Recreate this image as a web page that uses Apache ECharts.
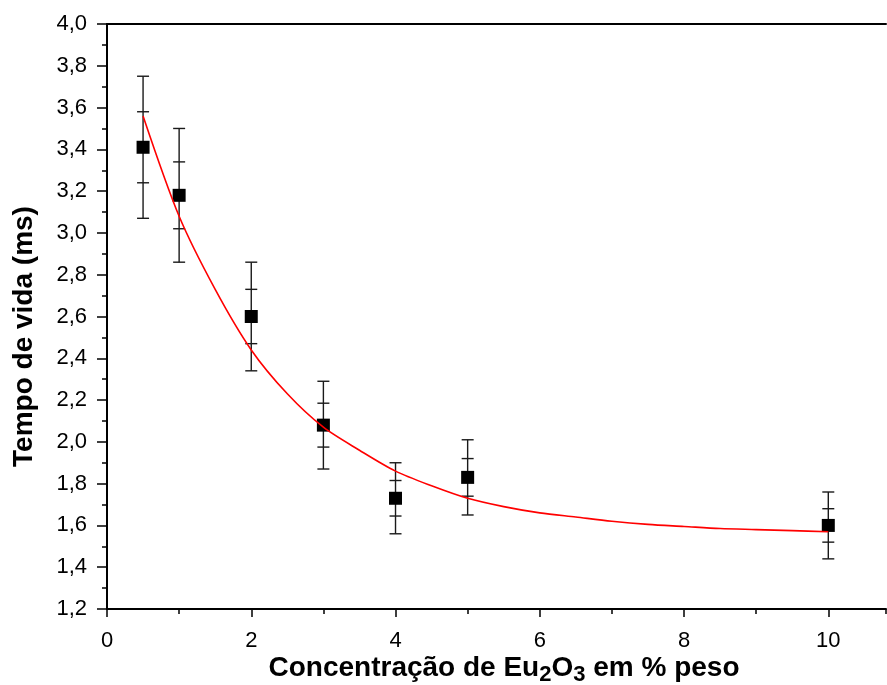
<!DOCTYPE html>
<html>
<head>
<meta charset="utf-8">
<script src="https://cdn.jsdelivr.net/npm/echarts@6/dist/echarts.min.js"></script>
<style>
  html, body { margin: 0; padding: 0; background: #fff; }
  #chart { width: 887px; height: 685px; }
</style>
</head>
<body>
<div id="chart"></div>
<script>
// Eu2O3 concentration (% by weight) and measured lifetime (ms)
const concentrations = [0.5, 1, 2, 3, 4, 5, 10];
const lifetimes = [3.41, 3.18, 2.60, 2.08, 1.73, 1.83, 1.60];
// outer (full) and inner (half) error-bar half-widths
const errOuter = [0.34, 0.32, 0.26, 0.21, 0.17, 0.18, 0.16];
const errInner = [0.17, 0.16, 0.13, 0.105, 0.085, 0.09, 0.08];

// exponential decay fit, sampled every 0.5 along the curve
const fitX = [0.5, 1, 1.5, 2, 2.5, 3, 3.5, 4, 4.5, 5, 5.5, 6, 6.5, 7, 7.5, 8, 8.5, 9, 9.5, 10];
const fitY = [3.56, 3.08, 2.73, 2.44, 2.23, 2.07, 1.96, 1.86, 1.79, 1.73, 1.69, 1.66, 1.64, 1.62, 1.605, 1.595, 1.585, 1.58, 1.575, 1.57];

const xTicks = [0, 2, 4, 6, 8, 10];
const yTicks = [1.2, 1.4, 1.6, 1.8, 2.0, 2.2, 2.4, 2.6, 2.8, 3.0, 3.2, 3.4, 3.6, 3.8, 4.0];
const X_MAX = 10.8;

const FONT = '"Liberation Sans", Arial, Helvetica, sans-serif';

const points = concentrations.map((x, i) => [x, lifetimes[i]]);
const errData = concentrations.map((x, i) => [x, lifetimes[i], errOuter[i], errInner[i]]);
const fitData = fitX.map((x, i) => [x, fitY[i]]);

function renderErrorBar(params, api) {
  const x = api.value(0), y = api.value(1), eo = api.value(2), ei = api.value(3);
  const top = api.coord([x, y + eo]);
  const bot = api.coord([x, y - eo]);
  const iTop = api.coord([x, y + ei]);
  const iBot = api.coord([x, y - ei]);
  const hw = 6;
  const style = { stroke: '#1a1a1a', lineWidth: 1.4 };
  const seg = (x1, y1, x2, y2) => ({ type: 'line', shape: { x1, y1, x2, y2 }, style });
  return {
    type: 'group',
    children: [
      seg(top[0], top[1], bot[0], bot[1]),
      seg(top[0] - hw, top[1], top[0] + hw, top[1]),
      seg(bot[0] - hw, bot[1], bot[0] + hw, bot[1]),
      seg(iTop[0] - hw, iTop[1], iTop[0] + hw, iTop[1]),
      seg(iBot[0] - hw, iBot[1], iBot[0] + hw, iBot[1])
    ]
  };
}

const chart = echarts.init(document.getElementById('chart'), null, { renderer: 'canvas' });

chart.setOption({
  animation: false,
  backgroundColor: '#ffffff',
  grid: { left: 107, right: 1, top: 24, bottom: 76, containLabel: false, outerBoundsMode: 'none' },
  xAxis: [
    {
      type: 'value',
      min: xTicks[0],
      max: X_MAX,
      interval: 2,
      position: 'bottom',
      axisLine: { show: true, lineStyle: { color: '#000', width: 2 } },
      axisTick: { show: true, inside: false, length: 8, lineStyle: { color: '#000', width: 1.5 } },
      splitLine: { show: false },
      axisLabel: {
        margin: 21,
        color: '#000',
        fontSize: 22,
        fontFamily: FONT,
        showMaxLabel: false,
        formatter: v => (xTicks.includes(v) ? String(v) : '')
      },
      name: 'Concentração de Eu{sub|2}O{sub|3} em % peso',
      nameLocation: 'middle',
      nameGap: 41,
      nameMoveOverlap: false,
      nameTextStyle: {
        color: '#000',
        fontSize: 28,
        fontWeight: 'bold',
        fontFamily: FONT,
        lineHeight: 36,
        padding: [0, 0, 0, 15],
        rich: {
          sub: {
            fontSize: 22,
            fontWeight: 'bold',
            fontFamily: FONT,
            color: '#000',
            lineHeight: 22,
            verticalAlign: 'bottom'
          }
        }
      }
    },
    {
      // minor ticks every unit along the bottom
      type: 'value',
      min: xTicks[0],
      max: X_MAX,
      interval: 1,
      position: 'bottom',
      axisLine: { show: false },
      axisTick: { show: true, inside: false, length: 5, lineStyle: { color: '#000', width: 1.5 } },
      axisLabel: { show: false },
      splitLine: { show: false }
    },
    {
      // top frame line
      type: 'value',
      min: xTicks[0],
      max: X_MAX,
      position: 'top',
      axisLine: { show: true, onZero: false, lineStyle: { color: '#000', width: 2 } },
      axisTick: { show: false },
      axisLabel: { show: false },
      splitLine: { show: false }
    }
  ],
  yAxis: {
    type: 'value',
    min: yTicks[0],
    max: yTicks[yTicks.length - 1],
    interval: 0.2,
    axisLine: { show: true, lineStyle: { color: '#000', width: 2 } },
    axisTick: { show: true, inside: false, length: 10, lineStyle: { color: '#000', width: 1.5 } },
    minorTick: { show: true, splitNumber: 2, length: 5, lineStyle: { color: '#000', width: 1.5 } },
    splitLine: { show: false },
    axisLabel: {
      margin: 20,
      color: '#000',
      fontSize: 22,
      fontFamily: FONT,
      formatter: v => v.toFixed(1).replace('.', ',')
    },
    name: 'Tempo de vida (ms)',
    nameLocation: 'middle',
    nameGap: 69,
    nameMoveOverlap: false,
    nameTextStyle: {
      color: '#000',
      fontSize: 28,
      fontWeight: 'bold',
      fontFamily: FONT,
      padding: [0, 40, 0, 0]
    }
  },
  series: [
    {
      type: 'custom',
      name: 'erro',
      renderItem: renderErrorBar,
      data: errData,
      encode: { x: 0, y: [1, 2, 3] },
      z: 2,
      silent: true
    },
    {
      type: 'scatter',
      name: 'Tempo de vida',
      data: points,
      symbol: 'rect',
      symbolSize: 13,
      itemStyle: { color: '#000', opacity: 1 },
      z: 3,
      silent: true
    },
    {
      type: 'line',
      name: 'ajuste',
      data: fitData,
      smooth: 0.3,
      showSymbol: false,
      lineStyle: { color: '#ff0000', width: 1.6 },
      z: 4,
      silent: true
    }
  ]
});
</script>
</body>
</html>
